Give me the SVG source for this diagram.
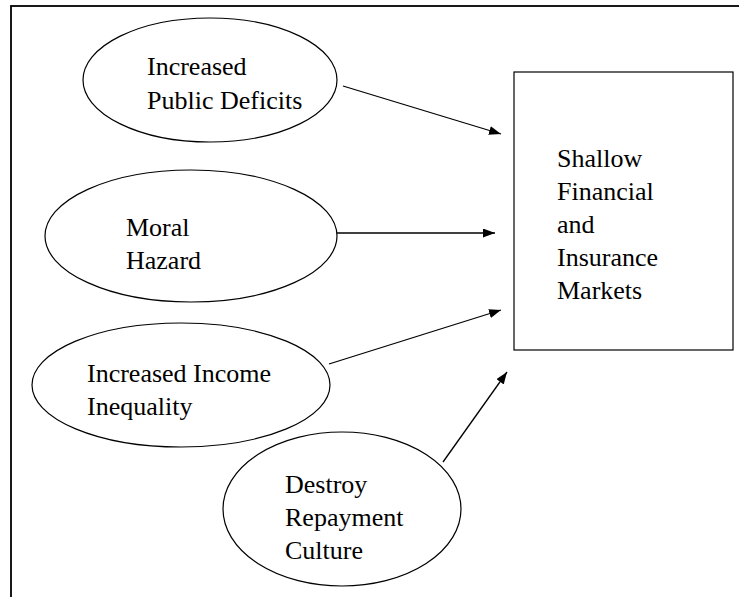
<svg xmlns="http://www.w3.org/2000/svg" width="739" height="597" viewBox="0 0 739 597">
<defs>
<style>
.shape{fill:#fff;stroke:#000;stroke-width:1.2}
.lbl{font-family:"Liberation Serif","Times New Roman",serif;font-size:26px;fill:#000}
.conn{stroke:#000;stroke-width:1.3;fill:none;marker-end:url(#ah)}
</style>
<marker id="ah" markerUnits="userSpaceOnUse" markerWidth="13" markerHeight="10" refX="12" refY="4.5" orient="auto">
<path d="M0,0 L12,4.5 L0,9 z" fill="#000"/>
</marker>
</defs>
<rect x="0" y="0" width="739" height="597" fill="#fff"/>
<rect id="frame" x="11" y="6" width="800" height="700" fill="none" stroke="#000" stroke-width="1.8"/>
<g id="n1">
<ellipse class="shape" cx="210" cy="80" rx="127" ry="62"/>
<text class="lbl" x="147" y="75">Increased</text>
<text class="lbl" x="147" y="109">Public Deficits</text>
</g>
<g id="n2">
<ellipse class="shape" cx="191" cy="236" rx="146" ry="66"/>
<text class="lbl" x="126" y="236">Moral</text>
<text class="lbl" x="126" y="269">Hazard</text>
</g>
<g id="n3">
<ellipse class="shape" cx="181" cy="385" rx="149" ry="62"/>
<text class="lbl" x="87" y="382">Increased Income</text>
<text class="lbl" x="87" y="415">Inequality</text>
</g>
<g id="n4">
<ellipse class="shape" cx="342" cy="509" rx="119" ry="77"/>
<text class="lbl" x="285" y="493">Destroy</text>
<text class="lbl" x="285" y="526">Repayment</text>
<text class="lbl" x="285" y="559">Culture</text>
</g>
<g id="target">
<rect class="shape" x="514" y="72" width="219" height="278"/>
<text class="lbl" x="557" y="167">Shallow</text>
<text class="lbl" x="557" y="200">Financial</text>
<text class="lbl" x="557" y="233">and</text>
<text class="lbl" x="557" y="266">Insurance</text>
<text class="lbl" x="557" y="299">Markets</text>
</g>
<g id="connectors">
<line class="conn" x1="343" y1="86" x2="501" y2="134"/>
<line class="conn" x1="337" y1="233" x2="495" y2="233"/>
<line class="conn" x1="329" y1="364" x2="501" y2="310"/>
<line class="conn" x1="443" y1="462" x2="507" y2="372"/>
</g>
</svg>
